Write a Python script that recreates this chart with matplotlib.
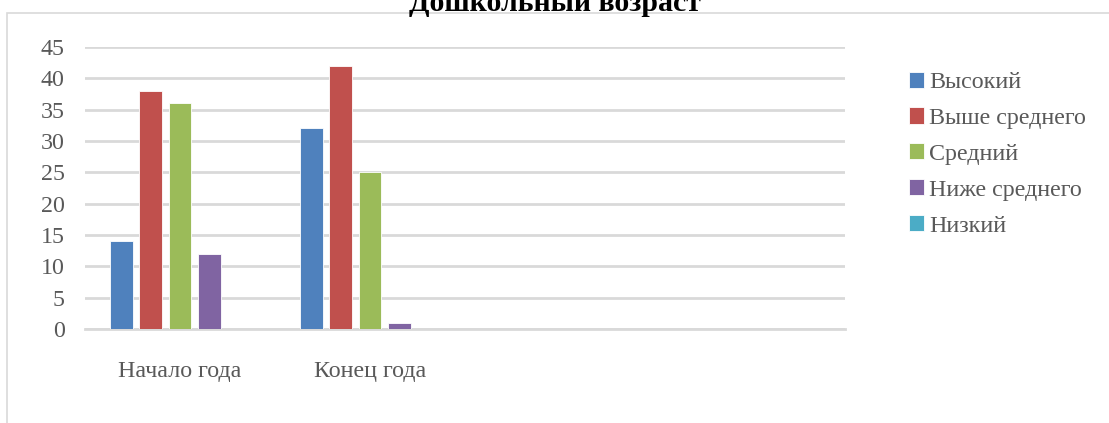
import numpy as np
import matplotlib
matplotlib.use('Agg')
from matplotlib import pyplot as plt
from matplotlib.patches import Rectangle

TITLE = 'Дошкольный возраст'
CATEGORIES = ['Начало года', 'Конец года', '', '']
SERIES = ['Высокий', 'Выше среднего', 'Средний', 'Ниже среднего', 'Низкий']
VALUES = [
    [14, 32, 0, 0],
    [38, 42, 0, 0],
    [36, 25, 0, 0],
    [12, 1, 0, 0],
    [0, 0, 0, 0],
]
COLORS = ['#4F81BD', '#C0504D', '#9BBB59', '#8064A2', '#4BACC6']
TEXT_COLOR = '#595959'
GRID_COLOR = '#D9D9D9'
FONT_SIZE = 17.3


def main():
    plt.rcParams['font.family'] = ['Liberation Serif', 'DejaVu Serif']
    fig = plt.figure(figsize=(11.09, 4.23), dpi=100)
    ax = fig.add_axes([85 / 1109, 1 - 329 / 423, 760 / 1109, 282 / 423])

    # outer chart frame, only left and top edges are visible
    fig.patches.append(Rectangle((7 / 1109, -0.1), 1.2, 1 - 13 / 423 + 0.1,
                                 transform=fig.transFigure, fill=False,
                                 edgecolor=GRID_COLOR, linewidth=1.2))

    x = np.arange(len(CATEGORIES))
    step = 0.155
    width = 0.121
    for i, (name, vals) in enumerate(zip(SERIES, VALUES)):
        offset = (i - (len(SERIES) - 1) / 2) * step
        ax.bar(x + offset, vals, width, color=COLORS[i], label=name,
               edgecolor='white', linewidth=0.6, zorder=3)

    ax.set_xlim(-0.5, len(CATEGORIES) - 0.5)
    ax.set_ylim(0, 45)
    ax.set_yticks(range(0, 46, 5))
    ax.set_xticks(x)
    ax.set_xticklabels(CATEGORIES)
    ax.yaxis.grid(True, color=GRID_COLOR, linewidth=2, zorder=0)
    for side in ('top', 'right', 'left'):
        ax.spines[side].set_visible(False)
    ax.spines['bottom'].set_color(GRID_COLOR)
    ax.spines['bottom'].set_linewidth(2)
    ax.tick_params(axis='both', length=0, labelsize=FONT_SIZE, colors=TEXT_COLOR)
    ax.tick_params(axis='x', pad=23)
    ax.tick_params(axis='y', pad=14.5)

    fig.text(0.5, 1 - 11 / 423, TITLE, ha='center', va='baseline',
             fontsize=21.5, fontweight='bold', color='black')

    leg = ax.legend(loc='upper left', bbox_to_anchor=(899 / 1109, 1 - 62 / 423),
                    bbox_transform=fig.transFigure, frameon=False,
                    fontsize=FONT_SIZE, handlelength=0.65, handleheight=0.65,
                    handletextpad=0.2, labelspacing=0.6, borderaxespad=0)
    for t in leg.get_texts():
        t.set_color(TEXT_COLOR)

    fig.savefig('out.png', dpi=100)


if __name__ == "__main__":
    main()
